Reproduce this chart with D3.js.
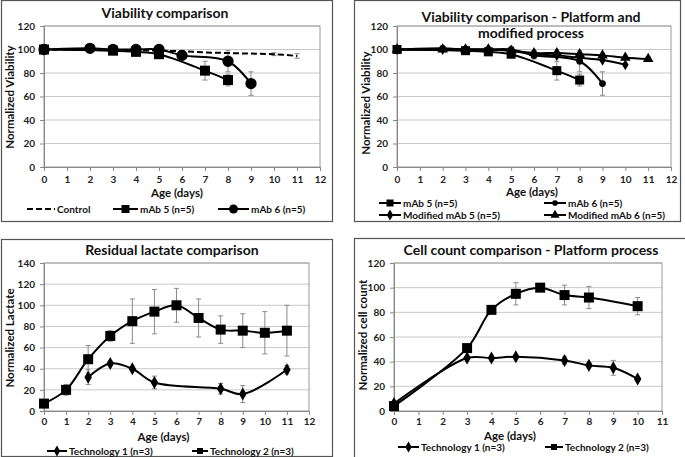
<!DOCTYPE html>
<html>
<head>
<meta charset="utf-8">
<script src="https://cdn.jsdelivr.net/npm/d3@7"></script>
<style>
  body { margin: 0; background: #fff; }
  svg { font-family: Lato, "Open Sans", sans-serif; font-weight: bold; }
</style>
</head>
<body>
<div id="viz"></div>
<script>
const width = 685;
const height = 457;

// ---- data ----
// Panel 1 + 2 : viability
const controlDays = [0, 2, 3, 4, 5, 6, 7, 8, 9, 10, 11];
const controlVals = [100, 100, 99.5, 99.5, 99, 98.5, 97.5, 97, 96.5, 96, 94.5];
const controlErr  = [0, 0, 0, 0, 0, 0, 0, 0, 0, 1.2, 2];

const mab5Days = [0, 3, 4, 5, 7, 8];
const mab5Vals = [100, 99, 98, 96, 82, 74];
const mab5Err  = [0, 1, 1, 1.5, 8, 5];

const mab6Days = [0, 2, 3, 4, 5, 6, 8, 9];
const mab6Vals = [100, 101, 100, 100, 100, 95, 90, 71];
const mab6Err  = [0, 0, 0, 1, 1, 3, 9, 10];

const modMab5Days = [0, 2, 3, 4, 5, 6, 7, 8, 9, 10];
const modMab5Vals = [100, 100, 100, 100, 99, 96, 95, 93, 91, 87];
const modMab5Err  = [0, 0, 0, 0, 1, 3, 1, 1, 1, 1];

const modMab6Days = [0, 2, 3, 4, 5, 6, 7, 8, 9, 10, 11];
const modMab6Vals = [100, 100, 100, 100, 99, 97, 97, 96, 95, 93, 92];
const modMab6Err  = [0, 0, 0, 0, 0, 1, 1, 1, 1, 1, 2];

// Panel 3 : residual lactate
const lacT1Days = [2, 3, 4, 5, 8, 9, 11];
const lacT1Vals = [32, 45, 40, 27, 21, 16, 39];
const lacT1Err  = [7, 2, 1, 6, 5, 8, 4];

const lacT2Days = [0, 1, 2, 3, 4, 5, 6, 7, 8, 9, 10, 11];
const lacT2Vals = [7, 20, 49, 71, 85, 94, 100, 88, 77, 76, 74, 76];
const lacT2Err  = [1, 5, 13, 5, 21, 21, 16, 18, 13, 16, 20, 24];

// Panel 4 : cell count
const cellT1Days = [0, 3, 4, 5, 7, 8, 9, 10];
const cellT1Vals = [6, 43, 43, 44, 41, 37, 35, 26];
const cellT1Err  = [1, 1, 1, 1, 3, 2, 6, 1];

const cellT2Days = [0, 3, 4, 5, 6, 7, 8, 10];
const cellT2Vals = [4, 51, 82, 95, 100, 94, 92, 85];
const cellT2Err  = [1, 1, 1, 9, 1, 8, 9, 7];

const zip = (d, v, e) => d.map((x, i) => ({x: x, y: v[i], e: e[i]}));

const svg = d3.select('#viz')
  .append('svg')
  .attr('width', width)
  .attr('height', height);

// draw one marker shape
const marker = (g, type, size) => {
  if (type === 'none') return;
  const sym = {square: d3.symbolSquare, circle: d3.symbolCircle,
               diamond: d3.symbolDiamond, triangle: d3.symbolTriangle}[type];
  g.append('path')
    .attr('d', d3.symbol().type(sym).size(size * size)())
    .attr('fill', '#000');
};

const drawPanel = (p) => {
  // outer frame
  svg.append('rect')
    .attr('x', p.frame[0] + 0.5).attr('y', p.frame[1] + 0.5)
    .attr('width', p.frame[2] - p.frame[0]).attr('height', p.frame[3] - p.frame[1])
    .attr('fill', 'none').attr('stroke', '#555').attr('stroke-width', 1.2);

  const xScale = d3.scaleLinear().domain([0, p.xMax]).range([p.left, p.right]);
  const yScale = d3.scaleLinear().domain([0, p.yMax]).range([p.bottom, p.top]);

  // gridlines
  svg.append('g')
    .selectAll('line')
    .data(d3.range(20, p.yMax + 1, 20))
    .join('line')
      .attr('x1', p.left).attr('x2', p.right)
      .attr('y1', d => yScale(d)).attr('y2', d => yScale(d))
      .attr('stroke', '#c8c8c8').attr('stroke-width', 1);

  // plot area border
  svg.append('rect')
    .attr('x', p.left).attr('y', p.top)
    .attr('width', p.right - p.left).attr('height', p.bottom - p.top)
    .attr('fill', 'none').attr('stroke', '#9a9a9a').attr('stroke-width', 1);

  // axes
  const yAxis = svg.append('g')
    .attr('transform', `translate(${p.left}, 0)`)
    .call(d3.axisLeft(yScale).tickValues(d3.range(0, p.yMax + 1, 20)).tickSize(4).tickPadding(5));
  const xAxis = svg.append('g')
    .attr('transform', `translate(0, ${p.bottom})`)
    .call(d3.axisBottom(xScale).ticks(p.xMax).tickSize(4).tickPadding(p.xTickPad));
  [yAxis, xAxis].forEach(a => {
    a.select('.domain').attr('stroke', '#888');
    a.selectAll('.tick line').attr('stroke', '#888');
    a.selectAll('.tick text')
      .attr('fill', '#222')
      .style('font-size', '10px')
      .style('font-family', 'Lato, sans-serif')
      .style('font-weight', 'bold');
  });

  // titles
  p.title.forEach((t, i) => {
    svg.append('text')
      .attr('x', p.titleX).attr('y', p.titleY + i * 16)
      .attr('text-anchor', 'middle')
      .style('font-size', '14px')
      .attr('fill', '#111')
      .text(t);
  });
  svg.append('text')
    .attr('x', (p.left + p.right) / 2 + p.xTitleDx).attr('y', p.xTitleY)
    .attr('text-anchor', 'middle')
    .style('font-size', '11.5px')
    .attr('fill', '#111')
    .text('Age (days)');
  svg.append('text')
    .attr('transform', `translate(${p.yTitleX}, ${p.yTitleY}) rotate(-90)`)
    .attr('text-anchor', 'middle')
    .style('font-size', '11.5px')
    .attr('fill', '#111')
    .text(p.yTitle);

  // series
  const line = d3.line()
    .x(d => xScale(d.x))
    .y(d => yScale(d.y))
    .curve(d3.curveCatmullRom.alpha(0.5));

  p.series.forEach(s => {
    // error bars
    const eb = svg.append('g')
      .selectAll('g')
      .data(s.data.filter(d => d.e > 0))
      .join('g')
        .attr('stroke', '#8a8a8a').attr('stroke-width', 1);
    eb.append('line')
      .attr('x1', d => xScale(d.x)).attr('x2', d => xScale(d.x))
      .attr('y1', d => yScale(d.y - d.e)).attr('y2', d => yScale(d.y + d.e));
    eb.append('line')
      .attr('x1', d => xScale(d.x) - 2.5).attr('x2', d => xScale(d.x) + 2.5)
      .attr('y1', d => yScale(d.y - d.e)).attr('y2', d => yScale(d.y - d.e));
    eb.append('line')
      .attr('x1', d => xScale(d.x) - 2.5).attr('x2', d => xScale(d.x) + 2.5)
      .attr('y1', d => yScale(d.y + d.e)).attr('y2', d => yScale(d.y + d.e));
  });

  p.series.forEach(s => {
    svg.append('path')
      .attr('d', line(s.data))
      .attr('fill', 'none')
      .attr('stroke', '#000')
      .attr('stroke-width', 2)
      .attr('stroke-dasharray', s.dash || null);

    svg.append('g')
      .selectAll('g')
      .data(s.data)
      .join('g')
        .attr('transform', d => `translate(${xScale(d.x)}, ${yScale(d.y)})`)
        .each(function () { marker(d3.select(this), s.marker, s.size); });
  });

  // legend
  p.series.forEach(s => {
    const lg = svg.append('g').attr('transform', `translate(${s.lx}, ${s.ly})`);
    lg.append('line')
      .attr('x1', 0).attr('x2', s.lw)
      .attr('stroke', '#000').attr('stroke-width', 2)
      .attr('stroke-dasharray', s.dash || null);
    const m = lg.append('g').attr('transform', `translate(${s.lw / 2}, 0)`);
    marker(m, s.marker, s.legendSize || s.size);
    lg.append('text')
      .attr('x', s.lw + 2).attr('y', 3.5)
      .style('font-size', '10px')
      .attr('fill', '#111')
      .text(s.name);
  });
};

drawPanel({
  frame: [1, 0, 332, 221],
  left: 44, right: 320, top: 26, bottom: 167,
  xMax: 12, yMax: 120, xTickPad: 5,
  title: ['Viability comparison'], titleX: 165, titleY: 18,
  xTitleDx: -5, xTitleY: 197,
  yTitle: 'Normalized Viability', yTitleX: 14, yTitleY: 97,
  series: [
    {name: 'Control', data: zip(controlDays, controlVals, controlErr), marker: 'none', dash: '6,3',
     lx: 27, ly: 209, lw: 28},
    {name: 'mAb 5 (n=5)', data: zip(mab5Days, mab5Vals, mab5Err), marker: 'square', size: 10,
     lx: 113, ly: 209, lw: 25, legendSize: 8},
    {name: 'mAb 6 (n=5)', data: zip(mab6Days, mab6Vals, mab6Err), marker: 'circle', size: 10,
     lx: 218, ly: 209, lw: 31, legendSize: 8}
  ]
});

drawPanel({
  frame: [354, 0, 680, 221],
  left: 397, right: 671, top: 26, bottom: 167,
  xMax: 12, yMax: 120, xTickPad: 5,
  title: ['Viability comparison - Platform and', 'modified process'], titleX: 531, titleY: 22,
  xTitleDx: -2, xTitleY: 196,
  yTitle: 'Normalized Viability', yTitleX: 370, yTitleY: 103,
  series: [
    {name: 'mAb 5 (n=5)', data: zip(mab5Days, mab5Vals, mab5Err), marker: 'square', size: 9,
     lx: 379, ly: 203, lw: 22, legendSize: 7},
    {name: 'mAb 6 (n=5)', data: zip(mab6Days, mab6Vals, mab6Err), marker: 'circle', size: 6,
     lx: 544, ly: 203, lw: 22, legendSize: 5},
    {name: 'Modified mAb 5 (n=5)', data: zip(modMab5Days, modMab5Vals, modMab5Err), marker: 'diamond', size: 6,
     lx: 379, ly: 215, lw: 22, legendSize: 6},
    {name: 'Modified mAb 6 (n=5)', data: zip(modMab6Days, modMab6Vals, modMab6Err), marker: 'triangle', size: 7,
     lx: 544, ly: 215, lw: 22, legendSize: 6}
  ]
});

drawPanel({
  frame: [1, 239, 332, 456],
  left: 44, right: 309, top: 263, bottom: 411,
  xMax: 12, yMax: 140, xTickPad: 3,
  title: ['Residual lactate comparison'], titleX: 172, titleY: 255,
  xTitleDx: -13, xTitleY: 441,
  yTitle: 'Normalized  Lactate', yTitleX: 14, yTitleY: 338,
  series: [
    {name: 'Technology 1 (n=3)', data: zip(lacT1Days, lacT1Vals, lacT1Err), marker: 'diamond', size: 7,
     lx: 47, ly: 451, lw: 20, legendSize: 6},
    {name: 'Technology 2 (n=3)', data: zip(lacT2Days, lacT2Vals, lacT2Err), marker: 'square', size: 10,
     lx: 192, ly: 451, lw: 16, legendSize: 6}
  ]
});

drawPanel({
  frame: [354, 238, 690, 460],
  left: 394, right: 662, top: 263, bottom: 411,
  xMax: 11, yMax: 120, xTickPad: 3,
  title: ['Cell count comparison - Platform process'], titleX: 531, titleY: 255,
  xTitleDx: -18, xTitleY: 440,
  yTitle: 'Normalized cell count', yTitleX: 367, yTitleY: 335,
  series: [
    {name: 'Technology 1 (n=3)', data: zip(cellT1Days, cellT1Vals, cellT1Err), marker: 'diamond', size: 7,
     lx: 398, ly: 447, lw: 21, legendSize: 6},
    {name: 'Technology 2 (n=3)', data: zip(cellT2Days, cellT2Vals, cellT2Err), marker: 'square', size: 10,
     lx: 545, ly: 447, lw: 18, legendSize: 6}
  ]
});
</script>
</body>
</html>
